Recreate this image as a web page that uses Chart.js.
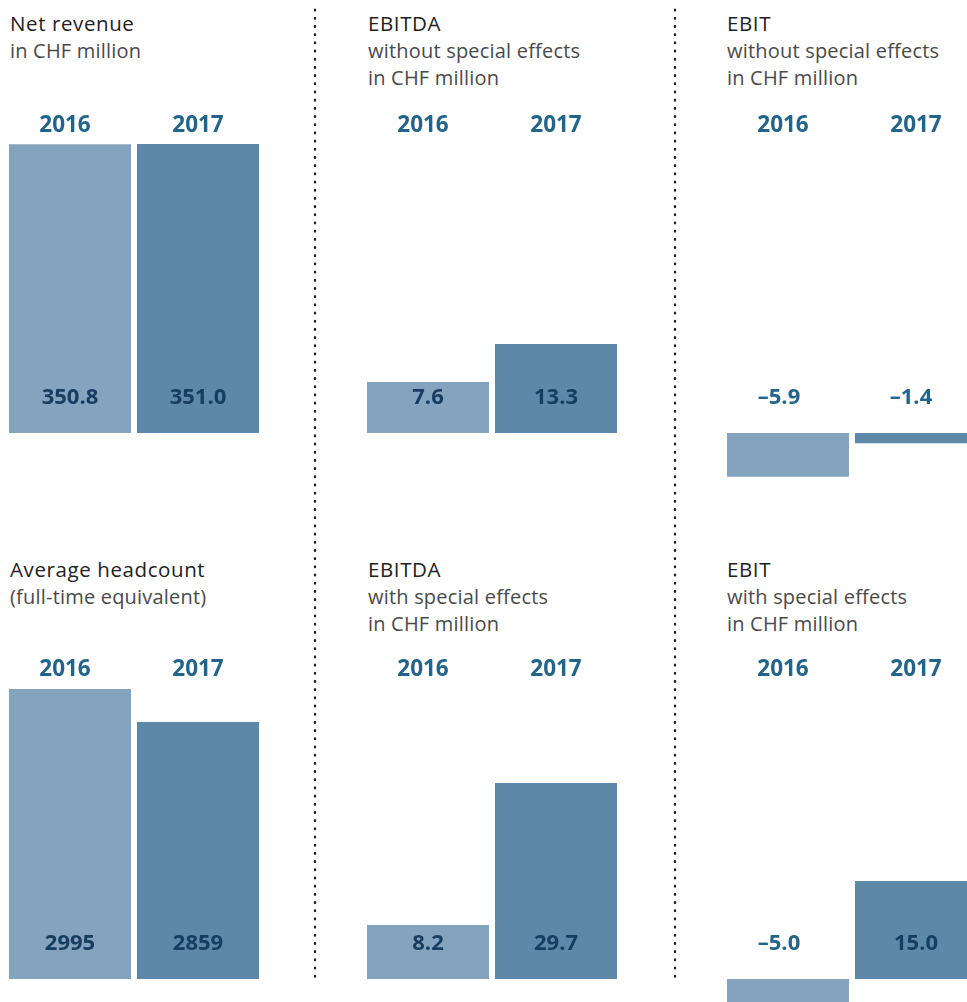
<!DOCTYPE html>
<html>
<head>
<meta charset="utf-8">
<script src="https://cdn.jsdelivr.net/npm/chart.js@4"></script>
<style>
  html, body { margin: 0; padding: 0; background: #fff; overflow: hidden; }
  body { width: 967px; height: 1002px; position: relative; font-family: "Open Sans", sans-serif; }
  canvas { position: absolute; }
  .title { position: absolute; font-size: 20.5px; line-height: 27px; color: #222; letter-spacing: 0.6px; }
  .title span { display: block; color: #4a4a4a; font-size: 20px; letter-spacing: 0.2px; }
  .sep { position: absolute; top: 6px; width: 4px; height: 972px;
         background: radial-gradient(circle, #222 1.1px, transparent 1.6px) 0 0 / 4px 8.2px repeat-y; }
</style>
</head>
<body>
<div class="sep" style="left:313px"></div>
<div class="sep" style="left:673px"></div>

<div class="title" style="left:10px;top:10px">Net revenue<span>in CHF million</span></div>
<div class="title" style="left:368px;top:10px">EBITDA<span>without special effects</span><span>in CHF million</span></div>
<div class="title" style="left:727px;top:10px">EBIT<span>without special effects</span><span>in CHF million</span></div>
<div class="title" style="left:10px;top:556px">Average headcount<span>(full-time equivalent)</span></div>
<div class="title" style="left:368px;top:556px">EBITDA<span>with special effects</span><span>in CHF million</span></div>
<div class="title" style="left:727px;top:556px">EBIT<span>with special effects</span><span>in CHF million</span></div>

<canvas id="c1"></canvas>
<canvas id="c2"></canvas>
<canvas id="c3"></canvas>
<canvas id="c4"></canvas>
<canvas id="c5"></canvas>
<canvas id="c6"></canvas>

<script>
const years = ['2016', '2017'];
const netRevenue = [350.8, 351.0];
const ebitdaWithout = [7.6, 13.3];
const ebitWithout = [-5.9, -1.4];
const headcount = [2995, 2859];
const ebitdaWith = [8.2, 29.7];
const ebitWith = [-5.0, 15.0];

const barColors = ['#84a3bf', '#5d88a8'];
const yearColor = '#22648a';
const insideColor = '#173d60';

function fmt(v, dec) {
  const s = Math.abs(v).toFixed(dec);
  return v < 0 ? '\u2013' + s : s;
}

// left/top/height of canvas, baseline y on page, px per unit, axis floor
const panels = [
  { id: 'c1', data: netRevenue,    dec: 1, left: 6,   top: 100, h: 400, base: 433, ppu: 0.8234, yearY: 126 },
  { id: 'c2', data: ebitdaWithout, dec: 1, left: 364, top: 100, h: 400, base: 433, ppu: 6.7,    yearY: 126 },
  { id: 'c3', data: ebitWithout,   dec: 1, left: 724, top: 100, h: 400, base: 433, ppu: 7.4,    yearY: 126 },
  { id: 'c4', data: headcount,     dec: 0, left: 6,   top: 640, h: 339, base: 979, ppu: 0.2426, yearY: 670, floor: 1800 },
  { id: 'c5', data: ebitdaWith,    dec: 1, left: 364, top: 640, h: 400, base: 979, ppu: 6.6,    yearY: 670 },
  { id: 'c6', data: ebitWith,      dec: 1, left: 724, top: 640, h: 400, base: 979, ppu: 6.53,   yearY: 670 }
];

const labelPlugin = {
  id: 'labels',
  afterDatasetsDraw(chart, args, opts) {
    const ctx = chart.ctx;
    const meta = chart.getDatasetMeta(0);
    const yScale = chart.scales.y;
    const zeroY = yScale.getPixelForValue(yScale.getBaseValue());
    ctx.save();
    ctx.textAlign = 'center';
    ctx.textBaseline = 'middle';
    meta.data.forEach((bar, i) => {
      const v = chart.data.datasets[0].data[i];
      ctx.font = 'bold 22.5px "Open Sans", sans-serif';
      ctx.fillStyle = yearColor;
      ctx.fillText(chart.data.labels[i], bar.x - (i === 0 ? 5 : 0), opts.yearY);
      ctx.font = 'bold 22px "Open Sans", sans-serif';
      ctx.fillStyle = v < 0 ? yearColor : insideColor;
      const dx = v < 0 ? (i === 0 ? -9 : -5) : 0;
      ctx.fillText(fmt(v, opts.dec), bar.x + dx, zeroY - 35);
    });
    ctx.restore();
  }
};

panels.forEach(p => {
  const cv = document.getElementById(p.id);
  cv.width = 256;
  cv.height = p.h;
  cv.style.left = p.left + 'px';
  cv.style.top = p.top + 'px';
  const floor = p.floor || 0;
  const above = (p.base - p.top) / p.ppu;
  const below = (p.top + p.h - p.base) / p.ppu;
  new Chart(cv, {
    type: 'bar',
    data: {
      labels: years,
      datasets: [{
        data: p.data,
        backgroundColor: barColors,
        borderWidth: 0,
        barPercentage: 122 / 128,
        categoryPercentage: 1
      }]
    },
    options: {
      responsive: false,
      animation: false,
      layout: { padding: 0 },
      scales: {
        x: { display: false },
        y: { display: false, min: floor - below, max: floor + above }
      },
      plugins: {
        legend: { display: false },
        tooltip: { enabled: false },
        labels: { yearY: p.yearY - p.top, dec: p.dec }
      }
    },
    plugins: [labelPlugin]
  });
});
</script>
</body>
</html>
